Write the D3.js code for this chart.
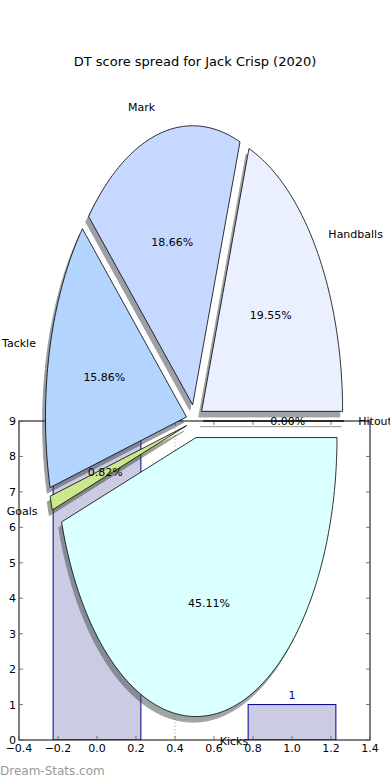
<!DOCTYPE html>
<html>
<head>
<meta charset="utf-8">
<script src="https://cdn.jsdelivr.net/npm/d3@7"></script>
<style>
  body { margin: 0; background: #fff; }
  svg { display: block; font-family: "DejaVu Sans", sans-serif; }
</style>
</head>
<body>
<div id="chart"></div>
<script>
// pie data (percent of DT score)
const pieLabels = ["Handballs", "Mark", "Tackle", "Goals", "Kicks", "Hitout"];
const pieValues = [19.55, 18.66, 15.86, 0.82, 45.11, 0.00];
const pieColors = ["#eaf0ff", "#c6d8ff", "#b3d4ff", "#cce88c", "#d9ffff", "#ffe0e0"];

// the bar chart behind it
const barX = [0, 1];
const barValues = [9, 1];
const barLabels = ["9", "1"];
const xTickValues = [-0.4, -0.2, 0.0, 0.2, 0.4, 0.6, 0.8, 1.0, 1.2, 1.4];
const yTickValues = [0, 1, 2, 3, 4, 5, 6, 7, 8, 9];

const width = 390, height = 780;
const explode = 0.06;

const svg = d3.select("#chart").append("svg")
    .attr("width", width)
    .attr("height", height);

svg.append("rect").attr("width", width).attr("height", height).attr("fill", "#fff");

// ---- bar axes ----
const x = d3.scaleLinear().domain([-0.4, 1.4]).range([19, 370]);
const y = d3.scaleLinear().domain([0, 9]).range([740, 421]);

svg.append("clipPath").attr("id", "clip")
  .append("rect")
    .attr("x", x(-0.4)).attr("y", y(9))
    .attr("width", x(1.4) - x(-0.4)).attr("height", y(0) - y(9));

const barG = svg.append("g").attr("clip-path", "url(#clip)");
barG.selectAll("rect.bar")
  .data(barValues)
  .enter().append("rect")
    .attr("class", "bar")
    .attr("x", (d, i) => x(barX[i] - 0.225))
    .attr("width", x(0.45) - x(0))
    .attr("y", d => y(d))
    .attr("height", d => y(0) - y(d))
    .attr("fill", "#cbcbe3")
    .attr("stroke", "#00008b")
    .attr("stroke-width", 1);

// dotted line at 0.4
svg.append("line")
    .attr("x1", x(0.4)).attr("x2", x(0.4))
    .attr("y1", y(9)).attr("y2", y(0))
    .attr("stroke", "#bbb")
    .attr("stroke-dasharray", "1.5,2");

svg.selectAll("text.barlabel")
  .data(barValues)
  .enter().append("text")
    .attr("class", "barlabel")
    .attr("x", (d, i) => x(barX[i]))
    .attr("y", d => y(d) - 6)
    .attr("text-anchor", "middle")
    .attr("font-size", 11)
    .attr("fill", "#00008b")
    .text((d, i) => barLabels[i]);

// frame
svg.append("rect")
    .attr("x", x(-0.4)).attr("y", y(9))
    .attr("width", x(1.4) - x(-0.4)).attr("height", y(0) - y(9))
    .attr("fill", "none")
    .attr("stroke", "#000")
    .attr("stroke-width", 1);

// inward ticks on all sides
const tickLen = 4;
const tk = svg.append("g").attr("stroke", "#555").attr("stroke-width", 0.8);
xTickValues.forEach(v => {
  tk.append("line").attr("x1", x(v)).attr("x2", x(v)).attr("y1", y(0)).attr("y2", y(0) - tickLen);
  tk.append("line").attr("x1", x(v)).attr("x2", x(v)).attr("y1", y(9)).attr("y2", y(9) + tickLen);
});
yTickValues.forEach(v => {
  tk.append("line").attr("x1", x(-0.4)).attr("x2", x(-0.4) + tickLen).attr("y1", y(v)).attr("y2", y(v));
  tk.append("line").attr("x1", x(1.4)).attr("x2", x(1.4) - tickLen).attr("y1", y(v)).attr("y2", y(v));
});

const fmtX = d3.format(".1f");
svg.selectAll("text.xt")
  .data(xTickValues)
  .enter().append("text")
    .attr("class", "xt")
    .attr("x", d => x(d))
    .attr("y", y(0) + 12)
    .attr("text-anchor", "middle")
    .attr("font-size", 11)
    .text(d => fmtX(d));

svg.selectAll("text.yt")
  .data(yTickValues)
  .enter().append("text")
    .attr("class", "yt")
    .attr("x", x(-0.4) - 3)
    .attr("y", d => y(d) + 4)
    .attr("text-anchor", "end")
    .attr("font-size", 11)
    .text(d => d);

// ---- pie (stretched, like the original) ----
const cx0 = 194.7, cy0 = 421, rx = 141, ry = 279;
const px = d3.scaleLinear().domain([-1, 1]).range([cx0 - rx, cx0 + rx]);
const py = d3.scaleLinear().domain([-1, 1]).range([cy0 + ry, cy0 - ry]);

const arcs = d3.pie().sort(null).value(d => d)(pieValues);

function wedgePath(ox, oy, t1, t2) {
  const n = Math.max(2, Math.ceil((t2 - t1) / (Math.PI / 180)));
  const pts = [[ox, oy]];
  for (let i = 0; i <= n; i++) {
    const t = t1 + (t2 - t1) * i / n;
    pts.push([ox + Math.cos(t), oy + Math.sin(t)]);
  }
  return d3.line().x(d => px(d[0])).y(d => py(d[1]))(pts) + "Z";
}

const slices = arcs.map((a, i) => {
  const mid = (a.startAngle + a.endAngle) / 2;
  return {
    label: pieLabels[i],
    value: a.value,
    color: pieColors[i],
    t1: a.startAngle,
    t2: a.endAngle,
    mid: mid,
    ox: explode * Math.cos(mid),
    oy: explode * Math.sin(mid)
  };
});

// shadows under everything
svg.append("g").selectAll("path")
  .data(slices)
  .enter().append("path")
    .attr("d", d => wedgePath(d.ox - 0.02, d.oy - 0.02, d.t1, d.t2))
    .attr("fill", d => { const c = d3.rgb(d.color); return d3.rgb(c.r * 0.3, c.g * 0.3, c.b * 0.3); })
    .attr("stroke", d => { const c = d3.rgb(d.color); return d3.rgb(c.r * 0.3, c.g * 0.3, c.b * 0.3); })
    .attr("stroke-width", 1)
    .attr("opacity", 0.5);

svg.append("g").selectAll("path")
  .data(slices)
  .enter().append("path")
    .attr("d", d => wedgePath(d.ox, d.oy, d.t1, d.t2))
    .attr("fill", d => d.color)
    .attr("stroke", "#000")
    .attr("stroke-width", 0.8)
    .attr("stroke-linejoin", "miter");

svg.selectAll("text.plabel")
  .data(slices)
  .enter().append("text")
    .attr("class", "plabel")
    .attr("x", d => px(d.ox + 1.1 * Math.cos(d.mid)))
    .attr("y", d => py(d.oy + 1.1 * Math.sin(d.mid)))
    .attr("dy", "0.35em")
    .attr("text-anchor", d => Math.cos(d.mid) > 0 ? "start" : "end")
    .attr("font-size", 11)
    .text(d => d.label);

svg.selectAll("text.pct")
  .data(slices)
  .enter().append("text")
    .attr("class", "pct")
    .attr("x", d => px(d.ox + 0.6 * Math.cos(d.mid)))
    .attr("y", d => py(d.oy + 0.6 * Math.sin(d.mid)))
    .attr("dy", "0.35em")
    .attr("text-anchor", "middle")
    .attr("font-size", 11)
    .text(d => d.value.toFixed(2) + "%");

// title + watermark
svg.append("text")
    .attr("x", width / 2)
    .attr("y", 66)
    .attr("text-anchor", "middle")
    .attr("font-size", 13)
    .text("DT score spread for Jack Crisp (2020)");

svg.append("text")
    .attr("x", 0)
    .attr("y", 775)
    .attr("font-size", 12)
    .attr("fill", "#999")
    .text("Dream-Stats.com");
</script>
</body>
</html>
